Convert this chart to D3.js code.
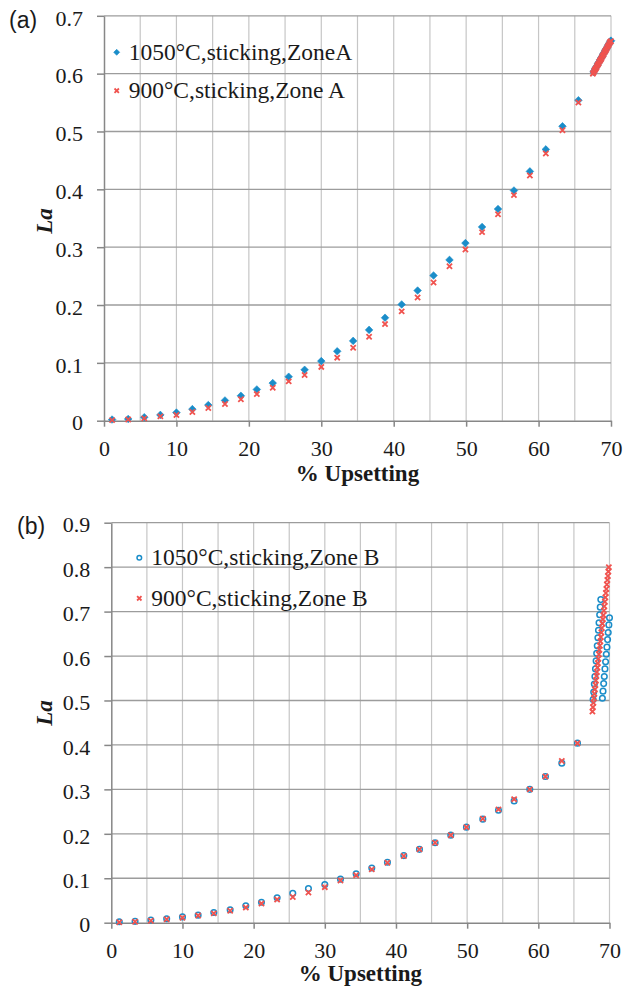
<!DOCTYPE html>
<html>
<head>
<meta charset="utf-8">
<script src="https://cdn.jsdelivr.net/npm/d3@7"></script>
<style>
  html, body { margin: 0; padding: 0; background: #fff; }
  svg { display: block; }
</style>
</head>
<body>
<svg id="chart" width="638" height="988"></svg>
<script>
// ---------------- DATA ----------------
const upsetting = [1.12, 3.34, 5.56, 7.78, 10.0, 12.2, 14.4, 16.7, 18.9, 21.1,
  23.3, 25.5, 27.7, 30.0, 32.2, 34.4, 36.6, 38.8, 41.1, 43.3,
  45.5, 47.7, 49.9, 52.2, 54.4, 56.6, 58.8, 61.0, 63.3, 65.5];

// (a) Zone A
const laA1050 = [0.002, 0.003, 0.006, 0.010, 0.014, 0.020, 0.027, 0.035, 0.043, 0.054,
  0.065, 0.076, 0.088, 0.103, 0.120, 0.138, 0.157, 0.178, 0.201, 0.225,
  0.251, 0.278, 0.307, 0.335, 0.366, 0.398, 0.431, 0.469, 0.509, 0.554];
const laA900 = [0.001, 0.002, 0.004, 0.0075, 0.010, 0.015, 0.022, 0.029, 0.037, 0.046,
  0.057, 0.068, 0.079, 0.093, 0.109, 0.126, 0.145, 0.167, 0.189, 0.213,
  0.239, 0.267, 0.296, 0.326, 0.357, 0.390, 0.424, 0.462, 0.502, 0.550];
const endA1050X = [67.6, 67.7, 67.8, 67.9, 68.0, 68.1, 68.2, 68.3, 68.4, 68.5, 68.6, 68.7, 68.8,
  68.9, 69.0, 69.1, 69.2, 69.3, 69.4, 69.5, 69.6, 69.7, 69.8, 69.9, 70.0];
const endA1050Y = [0.603, 0.605, 0.608, 0.610, 0.612, 0.614, 0.617, 0.619, 0.621, 0.624, 0.626, 0.628, 0.630,
  0.633, 0.635, 0.637, 0.640, 0.642, 0.644, 0.646, 0.649, 0.651, 0.653, 0.656, 0.657];
const endA900X = [67.5, 67.6, 67.7, 67.8, 67.9, 68.0, 68.1, 68.2, 68.3, 68.4, 68.5, 68.6, 68.7,
  68.8, 68.9, 69.0, 69.1, 69.2, 69.3, 69.4, 69.5, 69.6, 69.7, 69.8, 69.9, 70.0];
const endA900Y = [0.600, 0.602, 0.605, 0.607, 0.609, 0.611, 0.614, 0.616, 0.618, 0.621, 0.623, 0.625, 0.627,
  0.630, 0.632, 0.634, 0.637, 0.639, 0.641, 0.643, 0.646, 0.648, 0.650, 0.653, 0.655, 0.656];

// (b) Zone B
const laB1050 = [0.002, 0.003, 0.006, 0.009, 0.013, 0.017, 0.023, 0.029, 0.038, 0.046,
  0.056, 0.066, 0.077, 0.086, 0.098, 0.110, 0.123, 0.136, 0.151, 0.165,
  0.180, 0.197, 0.215, 0.233, 0.253, 0.274, 0.300, 0.329, 0.359, 0.404];
const laB900 = [0.001, 0.002, 0.0045, 0.0076, 0.011, 0.016, 0.021, 0.027, 0.034, 0.043,
  0.052, 0.058, 0.068, 0.080, 0.095, 0.107, 0.120, 0.135, 0.150, 0.165,
  0.180, 0.197, 0.215, 0.234, 0.255, 0.278, 0.300, 0.329, 0.364, 0.404];
const endB1050X = [67.70, 67.78, 67.87, 67.95, 68.03, 68.12, 68.20, 68.28, 68.37, 68.45, 68.53, 68.62, 68.70, 68.78,
  69.00, 69.09, 69.18, 69.27, 69.36, 69.45, 69.55, 69.64, 69.73, 69.82, 69.91, 70.00];
const endB1050Y = [0.502, 0.519, 0.537, 0.554, 0.571, 0.589, 0.606, 0.623, 0.641, 0.658, 0.675, 0.693, 0.710, 0.727,
  0.505, 0.521, 0.538, 0.554, 0.571, 0.587, 0.604, 0.620, 0.637, 0.653, 0.670, 0.686];
const endB900X = [67.60, 67.67, 67.74, 67.81, 67.88, 67.95, 68.02, 68.09, 68.16, 68.23, 68.30, 68.37,
  68.44, 68.51, 68.58, 68.65, 68.72, 68.79, 68.86, 68.93, 69.00, 69.07, 69.14, 69.21,
  69.28, 69.35, 69.42, 69.49, 69.56, 69.63, 69.70, 69.77, 69.84, 69.91];
const endB900Y = [0.475, 0.485, 0.495, 0.505, 0.515, 0.525, 0.535, 0.545, 0.555, 0.564, 0.574, 0.584,
  0.594, 0.604, 0.614, 0.623, 0.633, 0.643, 0.653, 0.663, 0.673, 0.683, 0.692, 0.702,
  0.712, 0.722, 0.732, 0.742, 0.751, 0.761, 0.771, 0.780, 0.790, 0.800];

const xTicks = [0, 10, 20, 30, 40, 50, 60, 70];
const xGrid = [0, 5, 10, 15, 20, 25, 30, 35, 40, 45, 50, 55, 60, 65, 70];
const yTicksA = [0, 0.1, 0.2, 0.3, 0.4, 0.5, 0.6, 0.7];
const yTicksB = [0, 0.1, 0.2, 0.3, 0.4, 0.5, 0.6, 0.7, 0.8, 0.9];

const legendA = ["1050°C,sticking,ZoneA", "900°C,sticking,Zone A"];
const legendB = ["1050°C,sticking,Zone B", "900°C,sticking,Zone B"];
const panelTags = ["(a)", "(b)"];
const xTitle = "% Upsetting";
const yTitle = "La";

// ---------------- STYLE ----------------
const BLUE = "#1a8dc9";
const RED = "#f0534f";
const SERIF = "'Liberation Serif', 'Times New Roman', serif";
const SANS = "'Liberation Sans', Arial, sans-serif";

const svg = d3.select("#chart");

const zip = (xs, ys) => xs.map((x, i) => [x, ys[i]]);

function diamondPath(r) { return `M0,${-r}L${r},0L0,${r}L${-r},0Z`; }
function crossPath(r) { return `M${-r},${-r}L${r},${r}M${-r},${r}L${r},${-r}`; }

function panel(cfg) {
  const x = d3.scaleLinear().domain([0, 70]).range(cfg.xr);
  const y = d3.scaleLinear().domain([0, cfg.ymax]).range(cfg.yr);
  const g = svg.append("g");

  // vertical gridlines
  g.append("g").selectAll("line").data(xGrid.filter(d => d > 0)).join("line")
    .attr("x1", d => x(d)).attr("x2", d => x(d))
    .attr("y1", y(0)).attr("y2", y(cfg.ymax))
    .attr("stroke", "#c6c6c6").attr("stroke-width", 1.2);
  // horizontal gridlines
  g.append("g").selectAll("line").data(cfg.yTicks.filter(d => d > 0)).join("line")
    .attr("x1", x(0)).attr("x2", x(70))
    .attr("y1", d => y(d)).attr("y2", d => y(d))
    .attr("stroke", "#9c9c9c").attr("stroke-width", 1.3);

  // y axis
  const yAxis = d3.axisLeft(y).tickValues(cfg.yTicks)
    .tickFormat(d => d === 0 ? "0" : d3.format(".1f")(d))
    .tickSize(7).tickSizeOuter(0).tickPadding(14);
  const ya = g.append("g").attr("transform", `translate(${x(0)},0)`).call(yAxis)
    .attr("font-family", SERIF).attr("font-size", 22);
  ya.select(".domain").attr("stroke", "#878787").attr("stroke-width", 1.5);
  ya.selectAll(".tick line").attr("stroke", "#878787").attr("stroke-width", 1.5);
  ya.selectAll(".tick text").style("font-family", SERIF).style("font-size", "22px")
    .attr("fill", "#1a1a1a").attr("dy", "0.42em");

  // x axis
  const xAxis = d3.axisBottom(x).tickValues(xTicks).tickFormat(d3.format("d"))
    .tickSize(6).tickSizeOuter(0).tickPadding(14);
  const xa = g.append("g").attr("transform", `translate(0,${y(0)})`).call(xAxis)
    .attr("font-family", SERIF).attr("font-size", 22);
  xa.select(".domain").attr("stroke", "#878787").attr("stroke-width", 1.5);
  xa.selectAll(".tick line").attr("stroke", "#878787").attr("stroke-width", 1.5);
  xa.selectAll(".tick text").style("font-family", SERIF).style("font-size", "22px")
    .attr("fill", "#1a1a1a");

  // titles
  g.append("text").attr("x", (cfg.xr[0] + cfg.xr[1]) / 2).attr("y", cfg.xTitleY)
    .attr("text-anchor", "middle").style("font-family", SERIF).attr("font-weight", "bold")
    .attr("font-size", 23).attr("fill", "#1a1a1a").text(xTitle);
  g.append("text").attr("transform", `translate(${cfg.yTitleX},${cfg.yTitleY}) rotate(-90)`)
    .attr("text-anchor", "middle").style("font-family", SERIF).attr("font-weight", "bold")
    .attr("font-style", "italic").attr("font-size", 23).attr("fill", "#1a1a1a").text(yTitle);
  g.append("text").attr("x", cfg.tagX).attr("y", cfg.tagY)
    .style("font-family", SANS).attr("font-size", 23).attr("fill", "#1a1a1a").text(cfg.tag);

  const s1 = zip(upsetting, cfg.blue).concat(zip(cfg.blueEndX, cfg.blueEndY));
  const s2 = zip(upsetting, cfg.red).concat(zip(cfg.redEndX, cfg.redEndY));
  drawBlue(g.append("g"), s1.map(d => [x(d[0]), y(d[1])]), cfg.circle);
  drawRed(g.append("g"), s2.map(d => [x(d[0]), y(d[1])]));

  // legend
  const lg = g.append("g");
  drawBlue(lg, [[cfg.legX, cfg.legY[0]]], cfg.circle, true);
  drawRed(lg, [[cfg.legX, cfg.legY[1]]], true);
  cfg.legend.forEach((t, i) => {
    lg.append("text").attr("x", cfg.legX + 12).attr("y", cfg.legY[i] + 7.5)
      .style("font-family", SERIF).attr("font-size", 23.5).attr("fill", "#1a1a1a").text(t);
  });
}

function drawBlue(g, pts, circle, small) {
  if (circle) {
    g.selectAll("circle").data(pts).join("circle")
      .attr("cx", d => d[0]).attr("cy", d => d[1]).attr("r", small ? 2.3 : 2.8)
      .attr("fill", "none").attr("stroke", BLUE).attr("stroke-width", 1.5);
  } else {
    g.selectAll("path").data(pts).join("path")
      .attr("transform", d => `translate(${d[0]},${d[1]})`)
      .attr("d", diamondPath(small ? 3 : 3.8)).attr("fill", BLUE)
      .attr("stroke", BLUE).attr("stroke-width", 0.6);
  }
}
function drawRed(g, pts, small) {
  g.selectAll("path.x").data(pts).join("path").attr("class", "x")
    .attr("transform", d => `translate(${d[0]},${d[1]})`)
    .attr("d", crossPath(small ? 2.2 : 2.6)).attr("fill", "none")
    .attr("stroke", RED).attr("stroke-width", 1.8);
}

panel({
  xr: [104, 611], yr: [420.7, 15.8], ymax: 0.7, yTicks: yTicksA,
  blue: laA1050, red: laA900, blueEndX: endA1050X, blueEndY: endA1050Y,
  redEndX: endA900X, redEndY: endA900Y, circle: false,
  legend: legendA, legX: 116.7, legY: [52.3, 90.7],
  xTitleY: 481, yTitleX: 52, yTitleY: 221, tag: panelTags[0], tagX: 9, tagY: 28
});
panel({
  xr: [111.3, 609.5], yr: [922.7, 522.7], ymax: 0.9, yTicks: yTicksB,
  blue: laB1050, red: laB900, blueEndX: endB1050X, blueEndY: endB1050Y,
  redEndX: endB900X, redEndY: endB900Y, circle: true,
  legend: legendB, legX: 139.3, legY: [557.7, 598.3],
  xTitleY: 981, yTitleX: 52, yTitleY: 713, tag: panelTags[1], tagX: 17, tagY: 534
});
</script>
</body>
</html>
